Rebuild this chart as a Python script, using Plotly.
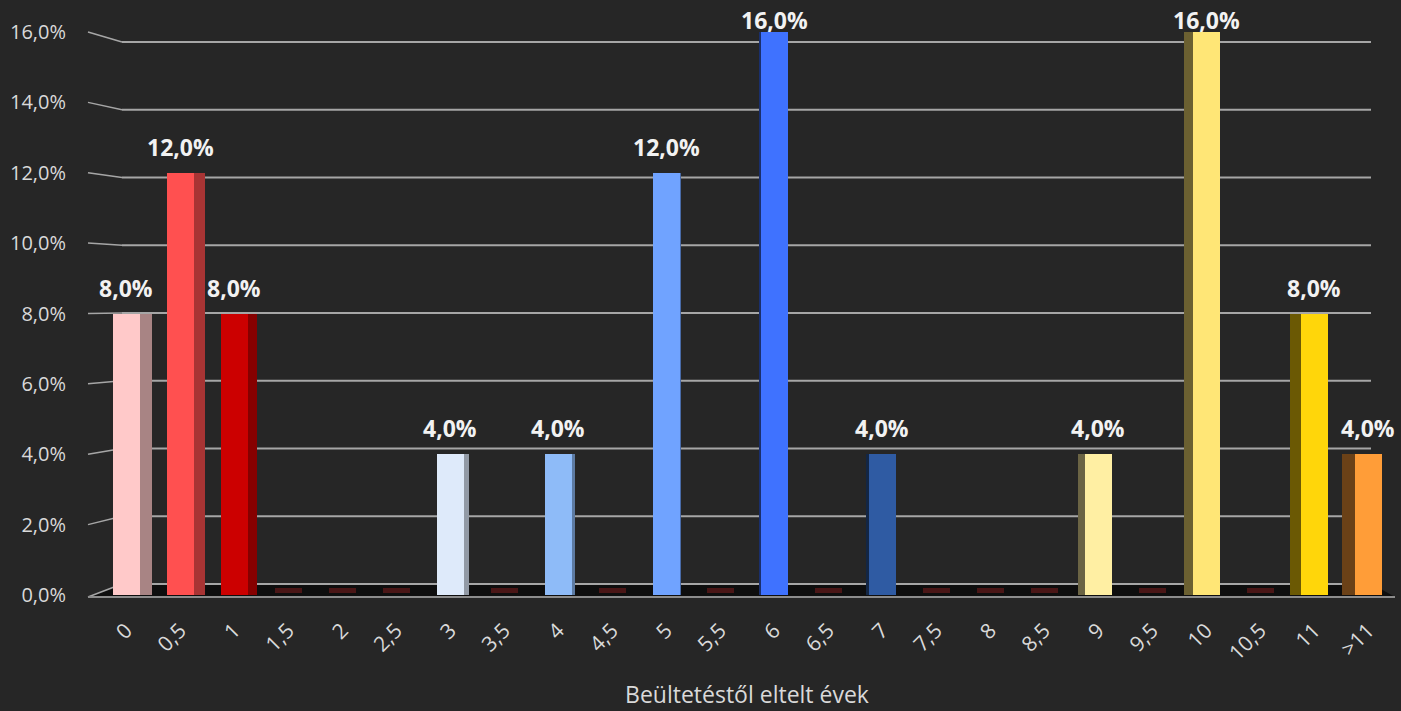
import plotly.graph_objects as go

# ---------------- data ----------------
categories = ["0", "0,5", "1", "1,5", "2", "2,5", "3", "3,5", "4", "4,5", "5", "5,5",
              "6", "6,5", "7", "7,5", "8", "8,5", "9", "9,5", "10", "10,5", "11", ">11"]
values = [8, 12, 8, 0, 0, 0, 4, 0, 4, 0, 12, 0, 16, 0, 4, 0, 0, 0, 4, 0, 16, 0, 8, 4]
front_colors = ["#FFC9C9", "#FF5050", "#CC0000", None, None, None, "#DEEAFA", None,
                "#8EBBF8", None, "#70A3FF", None, "#3F72FF", None, "#2F5BA3", None,
                None, None, "#FFEFA3", None, "#FFE676", None, "#FFD60A", "#FF9D38"]
y_ticks = [0, 2, 4, 6, 8, 10, 12, 14, 16]
y_tick_labels = ["0,0%", "2,0%", "4,0%", "6,0%", "8,0%", "10,0%", "12,0%", "14,0%", "16,0%"]
x_title = "Beültetéstől eltelt évek"

# ---------------- geometry / style ----------------
W, H = 1401, 711
ML, MR, MT, MB = 99, 6, 20, 106
PW, PH = W - ML - MR, H - MT - MB
Y0_PX, Y16_PX = 595, 32
PX_PER_UNIT = (Y0_PX - Y16_PX) / 16.0
y_lo = -(MT + PH - Y0_PX) / PX_PER_UNIT
y_hi = (Y0_PX - MT) / PX_PER_UNIT
BG = "#262626"
ZERO_COLOR = "#4A1616"
FONT = "Open Sans"


def px_x(px):
    return (px - ML) / PW


def px_y(py):
    return (MT + PH - py) / PH


def back_val(v):
    # back wall position (perspective) expressed in front-axis units
    py = 584 - v * (584 - 42) / 16.0
    return (Y0_PX - py) / PX_PER_UNIT


def shade(hexc, f):
    h = hexc.lstrip("#")
    r, g, b = int(h[0:2], 16), int(h[2:4], 16), int(h[4:6], 16)
    return "#%02X%02X%02X" % (int(r * f), int(g * f), int(b * f))


n = len(categories)
idx = list(range(n))
vp = (n - 1) / 2.0
FRONT_W = 0.5
side_w, side_off, side_col = [], [], []
for i, c in enumerate(front_colors):
    d = i - vp
    w = 0.0194 * abs(d)
    side_w.append(w)
    if d < 0:
        side_off.append(FRONT_W / 2)
        side_col.append(shade(c, 0.66) if c else BG)
    else:
        side_off.append(-FRONT_W / 2 - w)
        side_col.append(shade(c, 0.42) if c else BG)

fig = go.Figure()

# side faces
fig.add_trace(go.Bar(
    x=idx, y=[v if v > 0 else None for v in values],
    width=side_w, offset=side_off,
    marker=dict(color=side_col, line=dict(width=0)),
    hoverinfo="skip", showlegend=False))

# front faces
fig.add_trace(go.Bar(
    x=idx, y=[v if v > 0 else None for v in values],
    width=FRONT_W, offset=-FRONT_W / 2,
    marker=dict(color=[c if c else BG for c in front_colors], line=dict(width=0)),
    customdata=categories,
    hovertemplate="%{customdata}: %{y:.1f}%<extra></extra>", showlegend=False))

# zero-value marks on the floor
fig.add_trace(go.Bar(
    x=idx, y=[0.14 if v == 0 else None for v in values], base=0.06,
    width=FRONT_W, offset=-FRONT_W / 2,
    marker=dict(color=ZERO_COLOR, line=dict(width=0)),
    hoverinfo="skip", showlegend=False))

shapes = []
# floor
fx = [88, 1395, 1372, 122]
fy = [597, 597, 584, 584]
path = "M %f,%f L %f,%f L %f,%f L %f,%f Z" % tuple(
    val for p in zip([px_x(a) for a in fx], [px_y(b) for b in fy]) for val in p)
shapes.append(dict(type="path", path=path, xref="paper", yref="paper",
                   fillcolor="#0E0E0E", line=dict(width=0), layer="below"))
# back gridlines + connectors to labels
for t in y_ticks:
    bv = back_val(t)
    shapes.append(dict(type="line", xref="paper", yref="y", x0=px_x(122), x1=px_x(1371),
                       y0=bv, y1=bv, line=dict(color="#A6A6A6", width=2), layer="below"))
    shapes.append(dict(type="line", xref="paper", yref="y", x0=px_x(88), x1=px_x(122),
                       y0=t if t > 0 else -2 / PX_PER_UNIT, y1=bv,
                       line=dict(color="#A6A6A6", width=1.5), layer="below"))
# floor front edge
shapes.append(dict(type="line", xref="paper", yref="paper", x0=px_x(88), x1=px_x(1395),
                   y0=px_y(597), y1=px_y(597), line=dict(color="#8C8C8C", width=2),
                   layer="below"))

annotations = []
for i, v in zip(idx, values):
    if v > 0:
        top_px = Y0_PX - v * PX_PER_UNIT
        annotations.append(dict(
            x=i, y=v, xref="x", yref="y", yanchor="middle",
            yshift=min(26, top_px - 20), showarrow=False,
            text=("%.1f" % v).replace(".", ",") + "%",
            font=dict(family=FONT, size=23, color="#F2F2F2", weight="bold")))

fig.update_layout(
    width=W, height=H,
    margin=dict(l=ML, r=MR, t=MT, b=MB),
    paper_bgcolor=BG, plot_bgcolor=BG,
    barmode="overlay", bargap=0,
    shapes=shapes, annotations=annotations,
    font=dict(family=FONT, color="#D9D9D9"),
    xaxis=dict(range=[-0.5, n - 0.5], tickvals=idx, ticktext=categories,
               showgrid=False, zeroline=False, automargin=False,
               showline=False, tickangle=-45, tickfont=dict(size=21, color="#D9D9D9"),
               ticks="outside", ticklen=4, tickcolor="rgba(0,0,0,0)",
               title=dict(text=x_title, font=dict(size=23, color="#D9D9D9"),
                          standoff=22)),
    yaxis=dict(range=[y_lo, y_hi], tickvals=y_ticks, ticktext=y_tick_labels,
               showgrid=False, zeroline=False, showline=False, automargin=False,
               ticks="outside", ticklen=28, tickcolor="rgba(0,0,0,0)",
               tickfont=dict(size=20, color="#D9D9D9")),
)

fig.write_html(
    "out.html",
    config={"displayModeBar": False},
    post_script="document.body.style.margin='0';document.body.style.background='#262626';"
                "document.body.style.overflow='hidden';")
